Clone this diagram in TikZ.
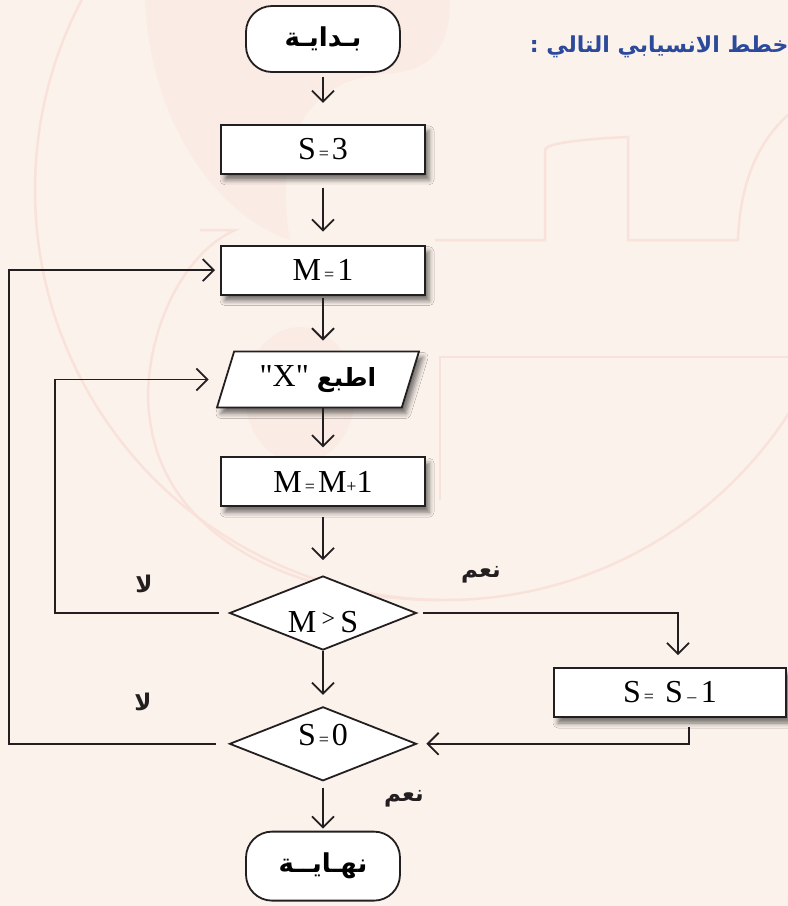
\documentclass[tikz,border=0pt]{standalone}
\usepackage{fontspec}
\setmainfont{Liberation Serif}[Ligatures=TeXOff]
\newfontfamily\arabicfont[Script=Arabic]{DejaVu Sans}
\TeXXeTstate=1
\usepackage{tikz}
\usetikzlibrary{shapes.geometric, arrows.meta, positioning, shadows.blur}
\definecolor{pagebg}{RGB}{252,242,236}
\definecolor{markline}{RGB}{249,226,218}
\definecolor{markfill}{RGB}{250,236,229}
\definecolor{titleblue}{RGB}{43,74,155}
\definecolor{ink}{RGB}{35,31,32}
\newcommand{\smeq}{{\fontsize{18}{18}\selectfont\,=\,}}
\newcommand{\smplus}{{\fontsize{18}{18}\selectfont +}}
\newcommand{\smminus}{{\fontsize{18}{18}\selectfont\ –\ }}
\newcommand{\arabtxt}[1]{{\arabicfont\bfseries\beginR #1\endR}}

\begin{document}
\begin{tikzpicture}[x=1pt, y=1pt, font=\fontsize{32}{36}\selectfont]
    % Styles
    \tikzstyle{term} = [rectangle, rounded corners=26pt, draw=ink, line width=1.8pt,
        fill=white, minimum width=154pt, minimum height=66pt, font=\fontsize{26}{30}\selectfont]
    \tikzstyle{block} = [rectangle, draw=ink, line width=1.8pt, fill=white,
        minimum width=204pt, minimum height=49pt,
        blur shadow={shadow xshift=4pt, shadow yshift=-6pt, shadow blur radius=5pt, shadow opacity=55}]
    \tikzstyle{io} = [trapezium, trapezium left angle=63, trapezium right angle=117,
        trapezium stretches body, draw=ink, line width=1.8pt, fill=white,
        minimum width=202pt, minimum height=56pt,
        blur shadow={shadow xshift=4pt, shadow yshift=-6pt, shadow blur radius=5pt, shadow opacity=55}]
    \tikzstyle{decision} = [diamond, aspect=2.5, draw=ink, line width=1.8pt, fill=white, inner sep=0pt,
        minimum width=187pt, minimum height=74pt]
    \tikzstyle{answer} = [font=\fontsize{23}{26}\selectfont, text=ink]
    \tikzstyle{arrow} = [line width=1.8pt, draw=ink, -{Straight Barb[length=11pt, width=22pt]}]

    % Page and watermark
    \useasboundingbox (0,0) rectangle (788,-906);
    \fill[pagebg] (0,0) rectangle (788,-906);
    \fill[markfill] (145,0) -- (450,0) .. controls (450,-55) and (425,-72) .. (385,-74)
        .. controls (300,-80) and (275,-150) .. (290,-240)
        .. controls (215,-215) and (150,-120) .. (145,0) -- cycle;
    \fill[markfill] (300,-395) ellipse (55pt and 68pt);
    \draw[markline, line width=2.5pt] (445,-190) circle (410);
    \draw[markline, line width=2.5pt] (200,-230) -- (235,-230)
        .. controls (170,-260) and (140,-360) .. (150,-420)
        .. controls (165,-540) and (300,-600) .. (440,-600);
    \draw[markline, line width=2.5pt] (435,-240) -- (545,-240) -- (545,-150)
        .. controls (545,-140) and (628,-137) .. (628,-137) -- (628,-240) -- (738,-240)
        .. controls (740,-180) and (760,-140) .. (788,-115);
    \draw[markline, line width=2.5pt] (440,-500) -- (440,-357) -- (788,-357);

    % Nodes
    \node [term] (start) at (323,-39) {\arabtxt{بـدايـة}};
    \node [block, below=51pt of start] (init) {S\smeq 3};
    \node [block, below=70pt of init] (reset) {M\smeq 1};
    \node [io, below=55pt of reset, xshift=-5pt] (print) {"X" {\fontsize{25}{28}\selectfont\arabtxt{اطبع}}};
    \node [block, below=48pt of print, xshift=5pt] (incr) {M\smeq M\smplus 1};
    \node [decision, below=68pt of incr] (bigger)
        {\raisebox{-8pt}[22pt][0pt]{M\,\raisebox{6pt}{\fontsize{24}{24}\selectfont >}\,S}};
    \node [decision, below=55pt of bigger] (zero) {\raisebox{9pt}[22pt][0pt]{S\smeq 0}};
    \node [term, below=49pt of zero, minimum height=69pt] (stop) {\arabtxt{نهـايــة}};
    \node [block, minimum width=232pt] (dec) at (670,-692.5) {S\smeq\ S\smminus 1};

    % Labels
    \node [answer] (no1) at (144,-584) {\arabtxt{لا}};
    \node [answer] (no2) at (143,-702) {\arabtxt{لا}};
    \node [answer] (yes1) at (481,-575) {\arabtxt{نعم}};
    \node [answer] (yes2) at (404,-799) {\arabtxt{نعم}};
    \node [anchor=east, text=titleblue, font=\fontsize{22}{25}\selectfont] (title) at (792,-47)
        {\arabtxt{خطط الانسيابي التالي :}};

    % Arrows
    \draw [arrow, shorten <=4pt, shorten >=21pt] (start) -- (init);
    \draw [arrow, shorten <=13pt, shorten >=13pt] (init) -- (reset);
    \draw [arrow, shorten <=2pt, shorten >=10pt] (reset.south) -- (reset.south |- print.north);
    \draw [arrow, shorten >=9pt] (print.south -| incr.north) -- (incr.north);
    \draw [arrow, shorten <=10pt, shorten >=15pt] (incr) -- (bigger);
    \draw [arrow, shorten >=11pt] (bigger) -- (zero);
    \draw [arrow, shorten <=6pt, shorten >=2pt] (zero) -- (stop);
    \draw [arrow, shorten <=6pt, shorten >=12pt] (bigger.east) -| ([xshift=8pt]dec.north);
    \draw [arrow, shorten <=9pt, shorten >=9pt] ([xshift=19pt]dec.south) |- (zero.east);
    \draw [arrow, shorten <=10pt, shorten >=16pt] (bigger.west) -- ++(-174pt,0) |- (print.west);
    \draw [arrow, shorten <=13pt, shorten >=5pt] (zero.west) -- ++(-220pt,0) |- (reset.west);
\end{tikzpicture}
\end{document}
